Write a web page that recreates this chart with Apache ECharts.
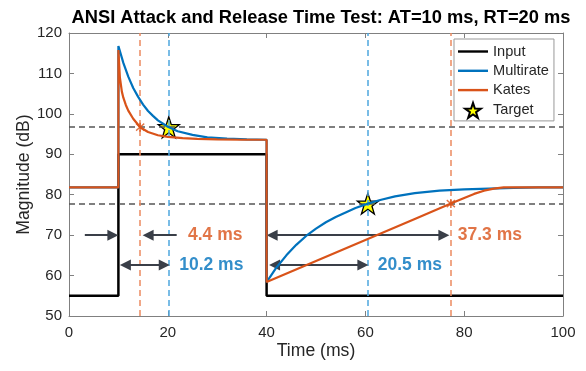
<!DOCTYPE html>
<html>
<head>
<meta charset="utf-8">
<script src="https://cdn.jsdelivr.net/npm/echarts@6/dist/echarts.min.js"></script>
<style>html,body{margin:0;padding:0;background:#fff}#c{width:586px;height:371px}</style>
</head>
<body>
<div id="c"></div>
<script>
// ---- data ----
const inputT = [0, 10, 10, 40, 40, 100];
const inputY = [55, 55, 90, 90, 55, 55];

const multiT = [0, 10, 10, 11, 12, 13, 14, 15, 16, 17, 18, 20, 22, 25, 28, 32, 36, 40, 40, 42, 44, 46, 48, 50, 52, 54, 56, 58, 60.5, 63, 66, 70, 75, 80, 85, 90, 95, 100];
const multiY = [81.8, 81.8, 116.8, 112.6, 109.2, 106.4, 104.2, 102.3, 100.7, 99.5, 98.4, 96.8, 95.7, 94.8, 94.2, 93.9, 93.7, 93.6, 58.4, 62.0, 65.0, 67.6, 69.8, 71.6, 73.2, 74.5, 75.6, 76.7, 77.8, 78.7, 79.6, 80.4, 81.0, 81.3, 81.5, 81.7, 81.8, 81.8];

const katesT = [0, 10, 10, 10.3, 10.7, 11, 11.5, 12, 13, 14.4, 16, 18, 20, 23, 26, 30, 35, 40, 40, 50, 60, 70, 77.3, 80, 82, 84, 86, 88, 100];
const katesY = [81.8, 81.8, 115.8, 109, 105.5, 104, 102.2, 100.8, 98.8, 96.7, 95.5, 94.7, 94.3, 94.0, 93.8, 93.7, 93.6, 93.6, 58.4, 63.6, 68.8, 74.0, 77.8, 79.2, 80.2, 81.0, 81.5, 81.8, 81.8];

const targetT = [20.2, 60.5];
const targetY = [96.7, 77.8];
const katesHitT = [14.4, 77.3];
const katesHitY = [96.7, 77.8];

const thresholds = [96.7, 77.8];
const multiVLines = [20.2, 60.5];
const katesVLines = [14.4, 77.3];

const labelTexts = ['4.4 ms', '10.2 ms', '37.3 ms', '20.5 ms'];
const labelT = [29.6, 28.8, 85.2, 69.0];
const labelY = [70, 62.6, 70, 62.6];
const labelSeries = ['Kates', 'Multirate', 'Kates', 'Multirate'];

// arrows: tail/tip positions in ms, level in dB
const arrowFrom = [3.2, 21.8, 10.3, 40.0, 40.5];
const arrowTo = [10.0, 14.9, 20.4, 77.0, 60.6];
const arrowLevel = [70, 70, 62.6, 70, 62.6];
const arrowStartHead = [false, false, true, true, true];
const arrowEndHead = [true, true, true, true, true];

const xTicks = [0, 20, 40, 60, 80, 100];
const yTicks = [50, 60, 70, 80, 90, 100, 110, 120];

// ---- styling ----
const BLUE = '#0072BD', ORANGE = '#D95319';
const BLUE_D = '#4DA6DE', ORANGE_D = '#EC8A60';
const FONT = '"Liberation Sans", Arial, sans-serif';
const TXT = '#262626', AX = '#808080';
const STAR = 'path://M10,0L12.29,6.84L19.51,6.91L13.71,11.21L15.88,18.09L10,13.9L4.12,18.09L6.29,11.21L0.49,6.91L7.71,6.84Z';
const ASTER = 'path://M4.2,0h1.6v10h-1.6z M0.4,1.8L1.2,0.4L9.6,8.2L8.8,9.6z M0.4,8.2L8.8,0.4L9.6,1.8L1.2,9.6z';
const LINEICON = 'path://M0,0h30v2.4h-30z';
const GRID = { left: 69, right: 23, top: 33, bottom: 55 };
const HEAD = 11;
const pxPerMs = (586 - GRID.left - GRID.right) / (xTicks[xTicks.length - 1] - xTicks[0]);
const inset = (HEAD / 2) / pxPerMs;

const zip = (a, b) => a.map((v, i) => [v, b[i]]);
const colorOf = s => s === 'Kates' ? ORANGE : BLUE;

const arrowData = arrowFrom.map((f, i) => {
  const t = arrowTo[i];
  const dir = Math.sign(t - f);
  const a = arrowStartHead[i] ? f + dir * inset : f;
  const b = arrowEndHead[i] ? t - dir * inset : t;
  return [
    { coord: [a, arrowLevel[i]], symbol: arrowStartHead[i] ? 'triangle' : 'none' },
    { coord: [b, arrowLevel[i]], symbol: arrowEndHead[i] ? 'triangle' : 'none' }
  ];
});

const axisCommon = {
  axisLine: { show: true, onZero: false, lineStyle: { color: AX, width: 1 } },
  axisTick: { show: true, inside: true, length: 5, lineStyle: { color: AX } },
  splitLine: { show: false }
};

const chart = echarts.init(document.getElementById('c'), null, { renderer: 'canvas' });
chart.setOption({
  animation: false,
  backgroundColor: '#fff',
  textStyle: { fontFamily: FONT },
  title: {
    text: 'ANSI Attack and Release Time Test: AT=10 ms, RT=20 ms',
    left: 316, top: 4, textAlign: 'center',
    textStyle: { fontFamily: FONT, fontSize: 18.3, fontWeight: 'bold', color: '#000' }
  },
  grid: GRID,
  legend: {
    orient: 'vertical', left: 454, top: 39,
    backgroundColor: '#fff', borderColor: '#999', borderWidth: 1,
    padding: [5, 5, 2, 4], itemGap: 4.3, itemWidth: 30, itemHeight: 15,
    textStyle: { fontFamily: FONT, fontSize: 14.6, color: TXT },
    data: [
      { name: 'Input', icon: LINEICON },
      { name: 'Multirate', icon: LINEICON },
      { name: 'Kates', icon: LINEICON },
      { name: 'Target', icon: STAR }
    ]
  },
  xAxis: [Object.assign({
    type: 'value', min: xTicks[0], max: xTicks[xTicks.length - 1], interval: 20,
    name: 'Time (ms)', nameLocation: 'middle', nameGap: 26, nameMoveOverlap: false,
    nameTextStyle: { fontFamily: FONT, fontSize: 17.6, color: TXT },
    axisLabel: { fontFamily: FONT, fontSize: 15, color: TXT, margin: 9 }
  }, axisCommon), Object.assign({
    type: 'value', min: xTicks[0], max: xTicks[xTicks.length - 1], interval: 20, position: 'top',
    axisLabel: { show: false }
  }, axisCommon)],
  yAxis: [Object.assign({
    type: 'value', min: yTicks[0], max: yTicks[yTicks.length - 1], interval: 10,
    name: 'Magnitude (dB)', nameLocation: 'middle', nameGap: 36, nameMoveOverlap: false,
    nameTextStyle: { fontFamily: FONT, fontSize: 17.6, color: TXT },
    axisLabel: { fontFamily: FONT, fontSize: 15, color: TXT, margin: 7 }
  }, axisCommon), Object.assign({
    type: 'value', min: yTicks[0], max: yTicks[yTicks.length - 1], interval: 10, position: 'right',
    axisLabel: { show: false }
  }, axisCommon)],
  series: [
    {
      name: 'guides', type: 'line', data: [], silent: true, z: 1,
      markLine: {
        silent: true, symbol: 'none', animation: false,
        label: { show: false },
        data: [
          ...thresholds.map(v => ({ yAxis: v, lineStyle: { color: '#555', type: [6, 4], width: 1.5 } })),
          ...multiVLines.map(v => ({ xAxis: v, lineStyle: { color: BLUE_D, type: [6, 4], width: 1.5 } })),
          ...katesVLines.map(v => ({ xAxis: v, lineStyle: { color: ORANGE_D, type: [6, 4], width: 1.5 } }))
        ]
      }
    },
    {
      name: 'Input', type: 'line', data: zip(inputT, inputY), showSymbol: false, z: 3,
      lineStyle: { color: '#000', width: 2.5 }, itemStyle: { color: '#000' }
    },
    {
      name: 'Target', type: 'scatter', data: zip(targetT, targetY), z: 4,
      symbol: STAR, symbolSize: 21,
      itemStyle: { color: '#FFFF00', borderColor: '#000', borderWidth: 1.3, opacity: 1 }
    },
    {
      name: 'Multirate', type: 'line', data: zip(multiT, multiY), showSymbol: false, z: 5,
      lineStyle: { color: BLUE, width: 2.2 }, itemStyle: { color: BLUE }
    },
    {
      name: 'Kates', type: 'line', data: zip(katesT, katesY), showSymbol: false, z: 6,
      lineStyle: { color: ORANGE, width: 2.2 }, itemStyle: { color: ORANGE }
    },
    {
      name: 'katesHit', type: 'scatter', data: zip(katesHitT, katesHitY), z: 7,
      symbol: ASTER, symbolSize: 9, itemStyle: { color: ORANGE }
    },
    {
      name: 'arrows', type: 'line', data: [], silent: true, z: 8,
      markLine: {
        silent: true, animation: false, symbolSize: HEAD,
        label: { show: false },
        lineStyle: { color: '#3A3F48', width: 2, type: 'solid' },
        itemStyle: { color: '#3A3F48' },
        data: arrowData
      }
    },
    {
      name: 'labels', type: 'scatter', z: 9, symbolSize: 1, silent: true,
      itemStyle: { color: 'rgba(0,0,0,0)' },
      data: labelTexts.map((t, i) => ({
        value: [labelT[i], labelY[i]],
        label: {
          show: true, position: 'inside', formatter: t,
          fontFamily: FONT, fontSize: 17.5, fontWeight: 'bold', color: colorOf(labelSeries[i])
        }
      }))
    }
  ]
});
</script>
</body>
</html>
